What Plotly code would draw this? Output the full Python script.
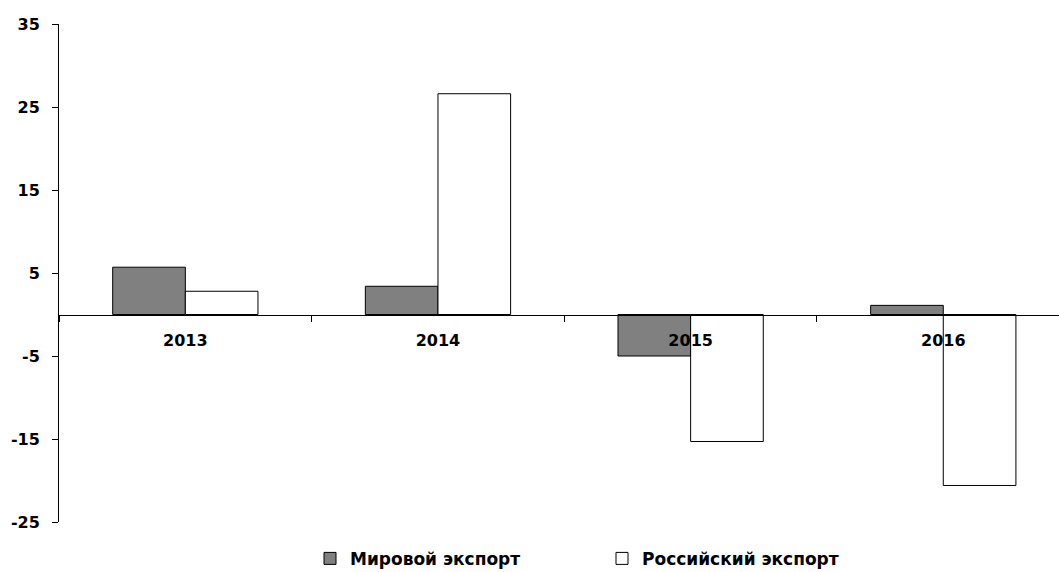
import plotly.graph_objects as go

# Export growth by year, %
years = ["2013", "2014", "2015", "2016"]
world_export = [5.7, 3.4, -5.0, 1.1]
russia_export = [2.8, 26.6, -15.3, -20.6]
series_names = ["Мировой экспорт", "Российский экспорт"]
y_ticks = [-25, -15, -5, 5, 15, 25, 35]
y_tick_labels = ["-25", "-15", "-5", "5", "15", "25", "35"]

FONT = "DejaVu Sans"

fig = go.Figure()
fig.add_trace(go.Bar(
    x=years, y=world_export, name=series_names[0],
    marker=dict(color="#808080", line=dict(color="#000000", width=1)),
))
fig.add_trace(go.Bar(
    x=years, y=russia_export, name=series_names[1],
    marker=dict(color="#ffffff", line=dict(color="#000000", width=1)),
))

y_min, y_max = -25, 35
fig.update_layout(
    width=1059, height=572,
    margin=dict(l=59, r=0, t=24, b=50, autoexpand=False),
    paper_bgcolor="white", plot_bgcolor="white",
    barmode="group", bargap=0.425, bargroupgap=0,
    font=dict(family=FONT, size=16, color="#000000"),
    showlegend=True,
    legend=dict(
        orientation="h", x=0.251, xanchor="left", y=-0.074, yanchor="middle",
        font=dict(family=FONT, size=17, color="#000000", weight="bold"),
        entrywidth=247, itemwidth=30,
    ),
    xaxis=dict(
        type="category", range=[-0.5, 3.458],
        anchor="free", position=(0 - y_min) / (y_max - y_min),
        showline=True, linecolor="#000000", linewidth=1,
        ticks="outside", ticklen=6, tickcolor="#000000", tickson="boundaries",
        tickfont=dict(family=FONT, size=16, color="#000000", weight="bold"),
        ticklabelstandoff=11,
        showgrid=False, zeroline=False,
    ),
    yaxis=dict(
        range=[y_min, y_max], tickvals=y_ticks, ticktext=y_tick_labels,
        showline=True, linecolor="#000000", linewidth=1,
        ticks="outside", ticklen=6, tickcolor="#000000",
        tickfont=dict(family=FONT, size=16, color="#000000", weight="bold"),
        ticklabelstandoff=9,
        showgrid=False, zeroline=False,
    ),
)

fig.write_html("out.html")
